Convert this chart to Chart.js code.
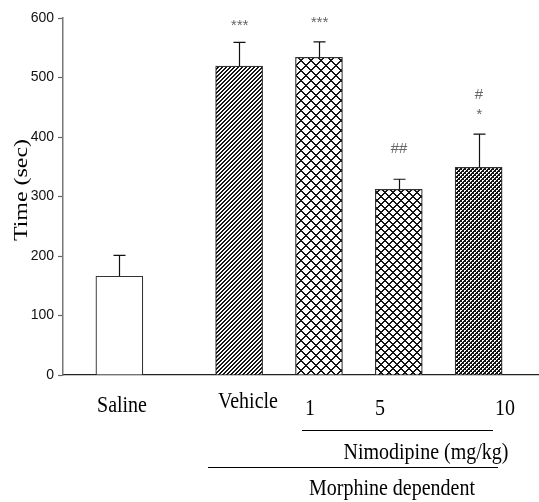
<!DOCTYPE html>
<html>
<head>
<meta charset="utf-8">
<script src="https://cdn.jsdelivr.net/npm/chart.js@4"></script>
<style>
  html, body { margin: 0; padding: 0; background: #fff; }
  #wrap { width: 539px; height: 502px; }
</style>
</head>
<body>
<div id="wrap"><canvas id="c" width="539" height="502"></canvas></div>
<script>
// 데이터: 그룹, 평균, 표준오차, x축 위치(그룹 단위)
const groups = ["Saline", "Vehicle", "1", "5", "10"];
const means = [166, 519, 534, 312, 349];
const sems = [35, 40, 26, 17, 56];
const groupPos = [0, 1.5, 2.5, 3.5, 4.5];
const sigMarks = [[], ["***"], ["***"], ["##"], ["*", "#"]];
const yTicks = [0, 100, 200, 300, 400, 500, 600];

const canvas = document.getElementById("c");
const ctx0 = canvas.getContext("2d");

// 작은 캔버스로 해칭 패턴을 만든다
function hatch(size, test) {
  const c = document.createElement("canvas");
  c.width = c.height = size;
  const g = c.getContext("2d");
  const img = g.createImageData(size, size);
  for (let y = 0; y < size; y++) {
    for (let x = 0; x < size; x++) {
      const v = test(x, y) ? 20 : 255;
      const k = (y * size + x) * 4;
      img.data[k] = img.data[k + 1] = img.data[k + 2] = v;
      img.data[k + 3] = 255;
    }
  }
  g.putImageData(img, 0, 0);
  return ctx0.createPattern(c, "repeat");
}
const cross = (s, w) => (x, y) => ((x + y) % s) < w || ((x - y + s * 10) % s) < w;
const fills = [
  "#ffffff",
  hatch(4, (x, y) => ((x + y) % 4) < 2),
  hatch(10, cross(10, 2)),
  hatch(8, cross(8, 2)),
  hatch(4, (x, y) => ((x + y) % 4) < 2 || ((x - y + 40) % 4) === 0),
];

const errorBars = {
  id: "errorBars",
  afterDatasetsDraw(chart) {
    const ctx = chart.ctx;
    const y = chart.scales.y;
    ctx.save();
    ctx.strokeStyle = "#111";
    ctx.lineWidth = 1.2;
    chart.getDatasetMeta(0).data.forEach((bar, i) => {
      const top = y.getPixelForValue(means[i] + sems[i]);
      const x = Math.round(bar.x) + 0.5;
      ctx.beginPath();
      ctx.moveTo(x, bar.y);
      ctx.lineTo(x, top);
      ctx.moveTo(x - 6, top);
      ctx.lineTo(x + 6, top);
      ctx.stroke();
    });
    ctx.restore();
  },
};

// 유의성 표시, 축 제목, 아래쪽 그룹 라벨
const labelsPlugin = {
  id: "labels",
  afterDraw(chart) {
    const ctx = chart.ctx;
    const y = chart.scales.y;
    const meta = chart.getDatasetMeta(0);
    ctx.save();
    ctx.fillStyle = "#666";
    ctx.textAlign = "center";
    ctx.textBaseline = "alphabetic";
    ctx.font = "italic 15px 'Liberation Sans', Arial, sans-serif";
    const gaps = [[], [12], [15], [26], [15, 35]];
    sigMarks.forEach((marks, i) => {
      const top = y.getPixelForValue(means[i] + sems[i]);
      const bx = meta.data[i].x;
      marks.forEach((m, j) => ctx.fillText(m, bx, top - gaps[i][j]));
    });

    ctx.fillStyle = "#000";
    const serif = "'Liberation Serif', 'Times New Roman', serif";
    // y축 제목 (세로로 약간 늘림)
    ctx.save();
    ctx.translate(27, 190);
    ctx.rotate(-Math.PI / 2);
    ctx.scale(1.33, 1);
    ctx.font = "18px " + serif;
    ctx.fillText("Time (sec)", 0, 0);
    ctx.restore();

    const put = (txt, x, by) => {
      ctx.save();
      ctx.translate(x, by);
      ctx.scale(1, 1.19);
      ctx.font = "20px " + serif;
      ctx.fillText(txt, 0, 0);
      ctx.restore();
    };
    put(groups[0], 122, 412);
    put(groups[1], 248, 408);
    put(groups[2], 310, 415);
    put(groups[3], 380, 415);
    put(groups[4], 505, 415);
    put("Nimodipine (mg/kg)", 426, 459);
    put("Morphine dependent", 392, 495);

    ctx.strokeStyle = "#000";
    ctx.lineWidth = 1;
    ctx.beginPath();
    ctx.moveTo(302, 430.5); ctx.lineTo(493, 430.5);
    ctx.moveTo(208, 467.5); ctx.lineTo(498, 467.5);
    ctx.stroke();
    ctx.restore();
  },
};

new Chart(canvas, {
  type: "bar",
  data: {
    datasets: [{
      data: groupPos.map((p, i) => ({ x: p, y: means[i] })),
      backgroundColor: fills,
      borderColor: "#333",
      borderWidth: 1.2,
      barThickness: 47,
    }],
  },
  options: {
    responsive: false,
    animation: false,
    layout: { padding: { top: 18, bottom: 119, left: 0, right: 0 } },
    plugins: { legend: { display: false }, tooltip: { enabled: false } },
    scales: {
      x: {
        type: "linear",
        offset: false,
        min: -0.706,
        max: 5.256,
        grid: { display: false },
        ticks: { display: false },
        border: { color: "#222", width: 1.2 },
      },
      y: {
        min: 0,
        max: 600,
        afterFit: (s) => { s.width = 63; },
        afterBuildTicks: (s) => { s.ticks = yTicks.map((v) => ({ value: v })); },
        grid: { drawOnChartArea: false, tickLength: 5, tickColor: "#666", tickWidth: 1.2 },
        border: { color: "#777", width: 1.5 },
        ticks: {
          padding: 4,
          color: "#111",
          font: { size: 14, family: "'Liberation Sans', Arial, sans-serif" },
        },
      },
    },
  },
  plugins: [errorBars, labelsPlugin],
});
</script>
</body>
</html>
